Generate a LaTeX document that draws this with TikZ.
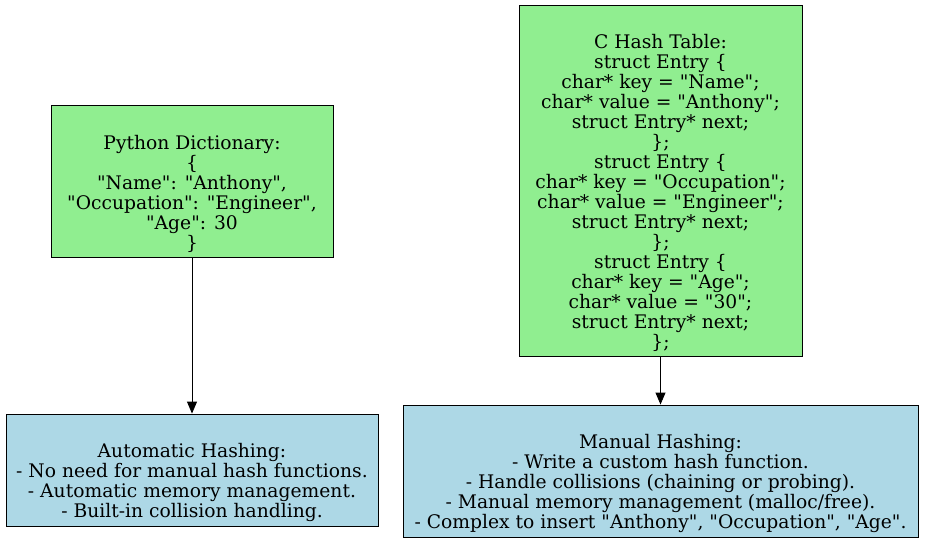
\documentclass[tikz,border=0pt]{standalone}
\usepackage{fontspec}
\setmainfont{DejaVu Serif}[Ligatures=TeXOff]
\usetikzlibrary{arrows.meta}
\definecolor{lightgreen}{HTML}{90EE90}
\definecolor{lightblue}{HTML}{ADD8E6}
% pushes the text block down a little, as in the source
\newcommand{\toppad}{\rule{0pt}{40pt}}

\begin{document}
\begin{tikzpicture}[x=1pt,y=-1pt,
	box/.style={draw=black,line width=0.9pt,align=center,inner sep=0pt,font=\fontsize{18.7}{20}\selectfont},
	dictbox/.style={box,fill=lightgreen},
	hashbox/.style={box,fill=lightblue},
	link/.style={-{Triangle[length=12pt,width=10pt]},line width=0.9pt}]
	\useasboundingbox (0,0) rectangle (925,543);
	\node[dictbox,minimum width=282pt,minimum height=152pt] (pydict) at (192,181) {\toppad Python Dictionary:\\ \{\\ "Name": "Anthony",\\ "Occupation": "Engineer",\\ "Age": 30\\ \}};
	\node[dictbox,minimum width=283pt,minimum height=351pt] (ctable) at (660.5,180.5) {\toppad C Hash Table:\\ struct Entry \{\\ char* key = "Name";\\ char* value = "Anthony";\\ struct Entry* next;\\ \};\\ struct Entry \{\\ char* key = "Occupation";\\ char* value = "Engineer";\\ struct Entry* next;\\ \};\\ struct Entry \{\\ char* key = "Age";\\ char* value = "30";\\ struct Entry* next;\\ \};};
	\node[hashbox,minimum width=372pt,minimum height=112pt] (autohash) at (192,470) {\toppad Automatic Hashing:\\ - No need for manual hash functions.\\ - Automatic memory management.\\ - Built-in collision handling.};
	\node[hashbox,minimum width=515pt,minimum height=132pt] (manualhash) at (660.5,471) {\toppad Manual Hashing:\\ - Write a custom hash function.\\ - Handle collisions (chaining or probing).\\ - Manual memory management (malloc/free).\\ - Complex to insert "Anthony", "Occupation", "Age".};
	\draw[link] (pydict) -- (autohash);
	\draw[link] (ctable) -- (manualhash);
\end{tikzpicture}
\end{document}
